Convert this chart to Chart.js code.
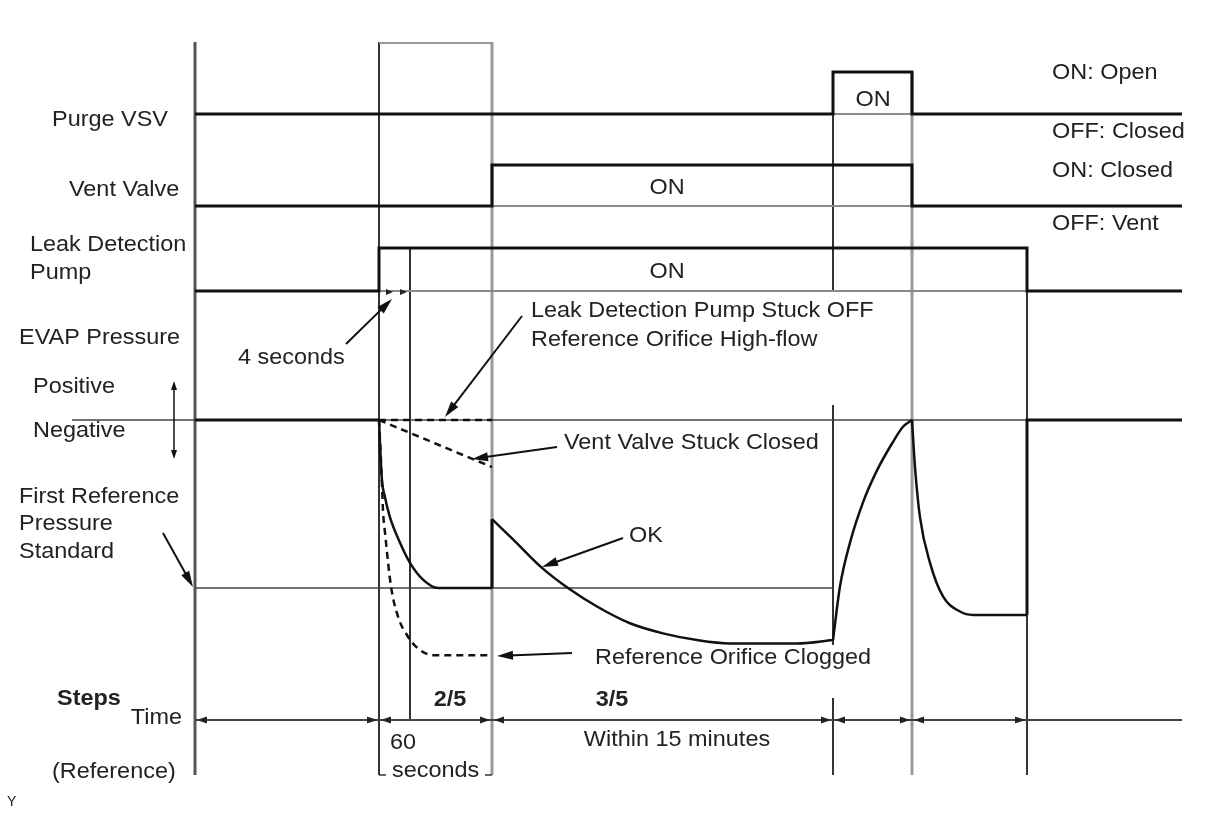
<!DOCTYPE html>
<html>
<head>
<meta charset="utf-8">
<script src="https://cdn.jsdelivr.net/npm/chart.js@4/dist/chart.umd.min.js"></script>
<style>
html, body { margin: 0; padding: 0; background: #fff; }
#wrap { width: 1208px; height: 814px; position: relative; }
</style>
</head>
<body>
<div id="wrap"><canvas id="timingChart"></canvas></div>
<script>
// time in schematic units (not to scale)
const eventTimes = [0, 18.4, 21.5, 29.7, 63.8, 71.7, 83.2, 98.7];
const stepBounds = [0, 18.4, 29.7, 63.8, 71.7, 83.2];

// on/off signals (1 = ON)
const purgeT = [0, 63.8, 63.8, 71.7, 71.7, 98.7];
const purgeV = [0, 0, 1, 1, 0, 0];
const ventT = [0, 29.7, 29.7, 71.7, 71.7, 98.7];
const ventV = [0, 0, 1, 1, 0, 0];
const pumpT = [0, 18.4, 18.4, 83.2, 83.2, 98.7];
const pumpV = [0, 0, 1, 1, 0, 0];

// EVAP pressure: 0 = atmosphere, -1 = first reference pressure standard
const preT = [0, 18.4];
const preP = [0, 0];
const okDownT = [18.4, 18.67, 19.0, 19.5, 20.5, 21.5, 22.8, 24.3, 29.7];
const okDownP = [0, -0.34, -0.46, -0.58, -0.73, -0.85, -0.95, -1.0, -1.0];
const jumpT = [29.7, 29.7];
const jumpP = [-1.0, -0.59];
const okDecayT = [29.7, 31.8, 34.7, 37.3, 40.2, 43.5, 46.8, 50.2, 53.5, 56.8, 60.2, 63.8];
const okDecayP = [-0.59, -0.71, -0.88, -1.0, -1.11, -1.21, -1.27, -1.31, -1.33, -1.33, -1.33, -1.31];
const riseT = [63.8, 64.5, 65.5, 66.8, 68.2, 69.7, 70.8, 71.7];
const riseP = [-1.31, -0.99, -0.73, -0.49, -0.30, -0.14, -0.04, 0];
const fallT = [71.7, 72.0, 72.5, 73.5, 74.8, 76.5, 77.8, 83.2];
const fallP = [0, -0.28, -0.58, -0.85, -1.05, -1.14, -1.16, -1.16];
const endT = [83.2, 83.2, 98.7];
const endP = [-1.16, 0, 0];

// failure cases (dashed)
const clogT = [18.4, 18.67, 18.8, 19.0, 19.6, 20.3, 21.3, 22.3, 23.8, 29.7];
const clogP = [0, -0.34, -0.54, -0.67, -0.99, -1.17, -1.29, -1.36, -1.40, -1.40];
const ventStuckT = [18.4, 29.7];
const ventStuckP = [0, -0.28];
const highFlowT = [18.4, 29.7];
const highFlowP = [0, 0];

// reference lines
const atmT = [-12.3, 98.7];
const atmP = [0, 0];
const refT = [0, 63.8];
const refP = [-1, -1];

const W = 1208, H = 814;

function yAxis(v0, p0, v1, p1) {
    const ppu = (p0 - p1) / (v1 - v0);
    const min = v0 - (H - p0) / ppu;
    return { type: 'linear', display: false, min: min, max: min + H / ppu };
}

function pts(ts, vs) {
    return ts.map((t, i) => ({ x: t, y: vs[i] }));
}

function line(ts, vs, axis, opts) {
    return Object.assign({
        data: pts(ts, vs),
        yAxisID: axis,
        showLine: true,
        pointRadius: 0,
        borderColor: '#111',
        borderWidth: 3,
        tension: 0,
        fill: false,
        borderCapStyle: 'butt',
        borderJoinStyle: 'miter'
    }, opts || {});
}

const curve = { cubicInterpolationMode: 'monotone', borderWidth: 2.5 };
const dashed = { borderWidth: 2.5, borderDash: [7, 5] };
const thin = { borderColor: '#8a8a8a', borderWidth: 2 };
const refLine = { borderColor: '#444', borderWidth: 1.5 };

const datasets = [
    line(purgeT, purgeV, 'yPurge'),
    line(ventT, ventV, 'yVent'),
    line(pumpT, pumpV, 'yPump'),
    line(preT, preP, 'yPress'),
    line(okDownT, okDownP, 'yPress', curve),
    line(jumpT, jumpP, 'yPress'),
    line(okDecayT, okDecayP, 'yPress', curve),
    line(riseT, riseP, 'yPress', curve),
    line(fallT, fallP, 'yPress', curve),
    line(endT, endP, 'yPress'),
    line(clogT, clogP, 'yPress', Object.assign({ cubicInterpolationMode: 'monotone' }, dashed)),
    line(ventStuckT, ventStuckP, 'yPress', dashed),
    line(highFlowT, highFlowP, 'yPress', dashed),
    // baselines under the ON pulses
    line([63.8, 71.7], [0, 0], 'yPurge', thin),
    line([29.7, 71.7], [0, 0], 'yVent', thin),
    line([18.4, 83.2], [0, 0], 'yPump', thin),
    line(atmT, atmP, 'yPress', refLine),
    line(refT, refP, 'yPress', refLine)
];

const TXT = '#222';
const FONT = '"Liberation Sans", Arial, Helvetica, sans-serif';
const STRETCH = 1.09;

const labels = [
    { s: 'Purge VSV', x: 52, y: 120 },
    { s: 'Vent Valve', x: 69, y: 190 },
    { s: 'Leak Detection', x: 30, y: 245 },
    { s: 'Pump', x: 30, y: 273 },
    { s: 'EVAP Pressure', x: 19, y: 338 },
    { s: 'Positive', x: 33, y: 387 },
    { s: 'Negative', x: 33, y: 431 },
    { s: 'First Reference', x: 19, y: 497 },
    { s: 'Pressure', x: 19, y: 524 },
    { s: 'Standard', x: 19, y: 552 },
    { s: 'Steps', x: 57, y: 699, bold: true },
    { s: 'Time', x: 182, y: 718, align: 'right' },
    { s: '(Reference)', x: 52, y: 772 },
    { s: 'ON: Open', x: 1052, y: 73 },
    { s: 'OFF: Closed', x: 1052, y: 132 },
    { s: 'ON: Closed', x: 1052, y: 171 },
    { s: 'OFF: Vent', x: 1052, y: 224 },
    { s: 'ON', x: 873, y: 100, align: 'center' },
    { s: 'ON', x: 667, y: 188, align: 'center' },
    { s: 'ON', x: 667, y: 272, align: 'center' },
    { s: '4 seconds', x: 238, y: 358 },
    { s: 'Leak Detection Pump Stuck OFF', x: 531, y: 311 },
    { s: 'Reference Orifice High-flow', x: 531, y: 340 },
    { s: 'Vent Valve Stuck Closed', x: 564, y: 443 },
    { s: 'OK', x: 629, y: 536 },
    { s: 'Reference Orifice Clogged', x: 595, y: 658 },
    { s: '2/5', x: 450, y: 700, align: 'center', bold: true },
    { s: '3/5', x: 612, y: 700, align: 'center', bold: true },
    { s: '60', x: 390, y: 743 },
    { s: 'seconds', x: 392, y: 771 },
    { s: 'Within 15 minutes', x: 677, y: 740, align: 'center' },
    { s: 'Y', x: 7, y: 802, size: 14 }
];

const pointers = [
    [346, 344, 392, 299],
    [522, 316, 445, 417],
    [557, 447, 472, 459],
    [623, 538, 542, 567],
    [572, 653, 497, 656],
    [163, 533, 193, 587]
];

// vertical event lines: index into eventTimes, pixel spans
const vlines = [
    { i: 0, spans: [[42, 775]], color: '#555', w: 3 },
    { i: 1, spans: [[42, 775]], color: '#333', w: 2 },
    { i: 2, spans: [[248, 720]], color: '#333', w: 2 },
    { i: 3, spans: [[42, 775]], color: '#9a9a9a', w: 3 },
    { i: 4, spans: [[72, 292], [405, 645], [698, 775]], color: '#333', w: 2 },
    { i: 5, spans: [[72, 775]], color: '#9a9a9a', w: 3 },
    { i: 6, spans: [[248, 775]], color: '#333', w: 2 }
];

function head(ctx, tx, ty, ang, len, hw) {
    ctx.save();
    ctx.translate(tx, ty);
    ctx.rotate(ang);
    ctx.beginPath();
    ctx.moveTo(0, 0);
    ctx.lineTo(-len, -hw);
    ctx.lineTo(-len, hw);
    ctx.closePath();
    ctx.fill();
    ctx.restore();
}

function seg(ctx, x1, y1, x2, y2) {
    ctx.beginPath();
    ctx.moveTo(x1, y1);
    ctx.lineTo(x2, y2);
    ctx.stroke();
}

const diagramPlugin = {
    id: 'diagram',
    beforeDatasetsDraw(chart) {
        const ctx = chart.ctx;
        const xs = chart.scales.x;
        ctx.save();
        ctx.lineCap = 'butt';
        vlines.forEach(v => {
            const px = xs.getPixelForValue(eventTimes[v.i]);
            ctx.strokeStyle = v.color;
            ctx.lineWidth = v.w;
            v.spans.forEach(s => seg(ctx, px, s[0], px, s[1]));
        });
        // top of the 60 second box
        ctx.strokeStyle = '#9a9a9a';
        ctx.lineWidth = 2;
        seg(ctx, xs.getPixelForValue(eventTimes[1]), 43, xs.getPixelForValue(eventTimes[3]), 43);
        // 60 seconds bracket feet
        ctx.strokeStyle = '#333';
        ctx.lineWidth = 1.5;
        const b1 = xs.getPixelForValue(eventTimes[1]);
        const b2 = xs.getPixelForValue(eventTimes[3]);
        seg(ctx, b1, 775, b1 + 7, 775);
        seg(ctx, b2 - 7, 775, b2, 775);
        ctx.restore();
    },
    afterDatasetsDraw(chart) {
        const ctx = chart.ctx;
        const xs = chart.scales.x;
        ctx.save();
        // time bar
        const barY = 720;
        ctx.strokeStyle = '#444';
        ctx.fillStyle = '#222';
        ctx.lineWidth = 2;
        seg(ctx, xs.getPixelForValue(0), barY, xs.getPixelForValue(eventTimes[7]), barY);
        for (let k = 0; k < stepBounds.length - 1; k++) {
            const a = xs.getPixelForValue(stepBounds[k]);
            const b = xs.getPixelForValue(stepBounds[k + 1]);
            head(ctx, a + 2, barY, Math.PI, 10, 3.5);
            head(ctx, b - 2, barY, 0, 10, 3.5);
        }
        // 4 second marks on pump line
        head(ctx, 393, 292, 0, 7, 3);
        head(ctx, 407, 292, 0, 7, 3);

        // pointer arrows
        ctx.strokeStyle = '#111';
        ctx.fillStyle = '#111';
        ctx.lineWidth = 2;
        pointers.forEach(p => {
            const ang = Math.atan2(p[3] - p[1], p[2] - p[0]);
            const bx = p[2] - Math.cos(ang) * 12;
            const by = p[3] - Math.sin(ang) * 12;
            seg(ctx, p[0], p[1], bx, by);
            head(ctx, p[2], p[3], ang, 16, 4.5);
        });
        // positive / negative double arrow
        ctx.lineWidth = 1.5;
        seg(ctx, 174, 388, 174, 452);
        head(ctx, 174, 381, -Math.PI / 2, 9, 3);
        head(ctx, 174, 459, Math.PI / 2, 9, 3);

        // text
        ctx.fillStyle = TXT;
        ctx.textBaseline = 'middle';
        labels.forEach(l => {
            ctx.save();
            ctx.font = (l.bold ? 'bold ' : '') + (l.size || 21.5) + 'px ' + FONT;
            ctx.textAlign = l.align || 'left';
            ctx.translate(l.x, l.y);
            ctx.scale(l.size ? 1 : STRETCH, 1);
            ctx.fillText(l.s, 0, 0);
            ctx.restore();
        });
        ctx.restore();
    }
};

const ctx = document.getElementById('timingChart').getContext('2d');

const timingChart = new Chart(ctx, {
    type: 'scatter',
    data: { datasets: datasets },
    options: {
        responsive: true,
        maintainAspectRatio: false,
        animation: false,
        events: [],
        layout: { padding: 0 },
        plugins: {
            legend: { display: false },
            tooltip: { enabled: false }
        },
        scales: {
            x: { type: 'linear', display: false, min: -19.5, max: -19.5 + W / 10 },
            yPurge: yAxis(0, 114, 1, 72),
            yVent: yAxis(0, 206, 1, 165),
            yPump: yAxis(0, 291, 1, 248),
            yPress: yAxis(0, 420, -1, 588)
        }
    },
    plugins: [diagramPlugin]
});
</script>
</body>
</html>
